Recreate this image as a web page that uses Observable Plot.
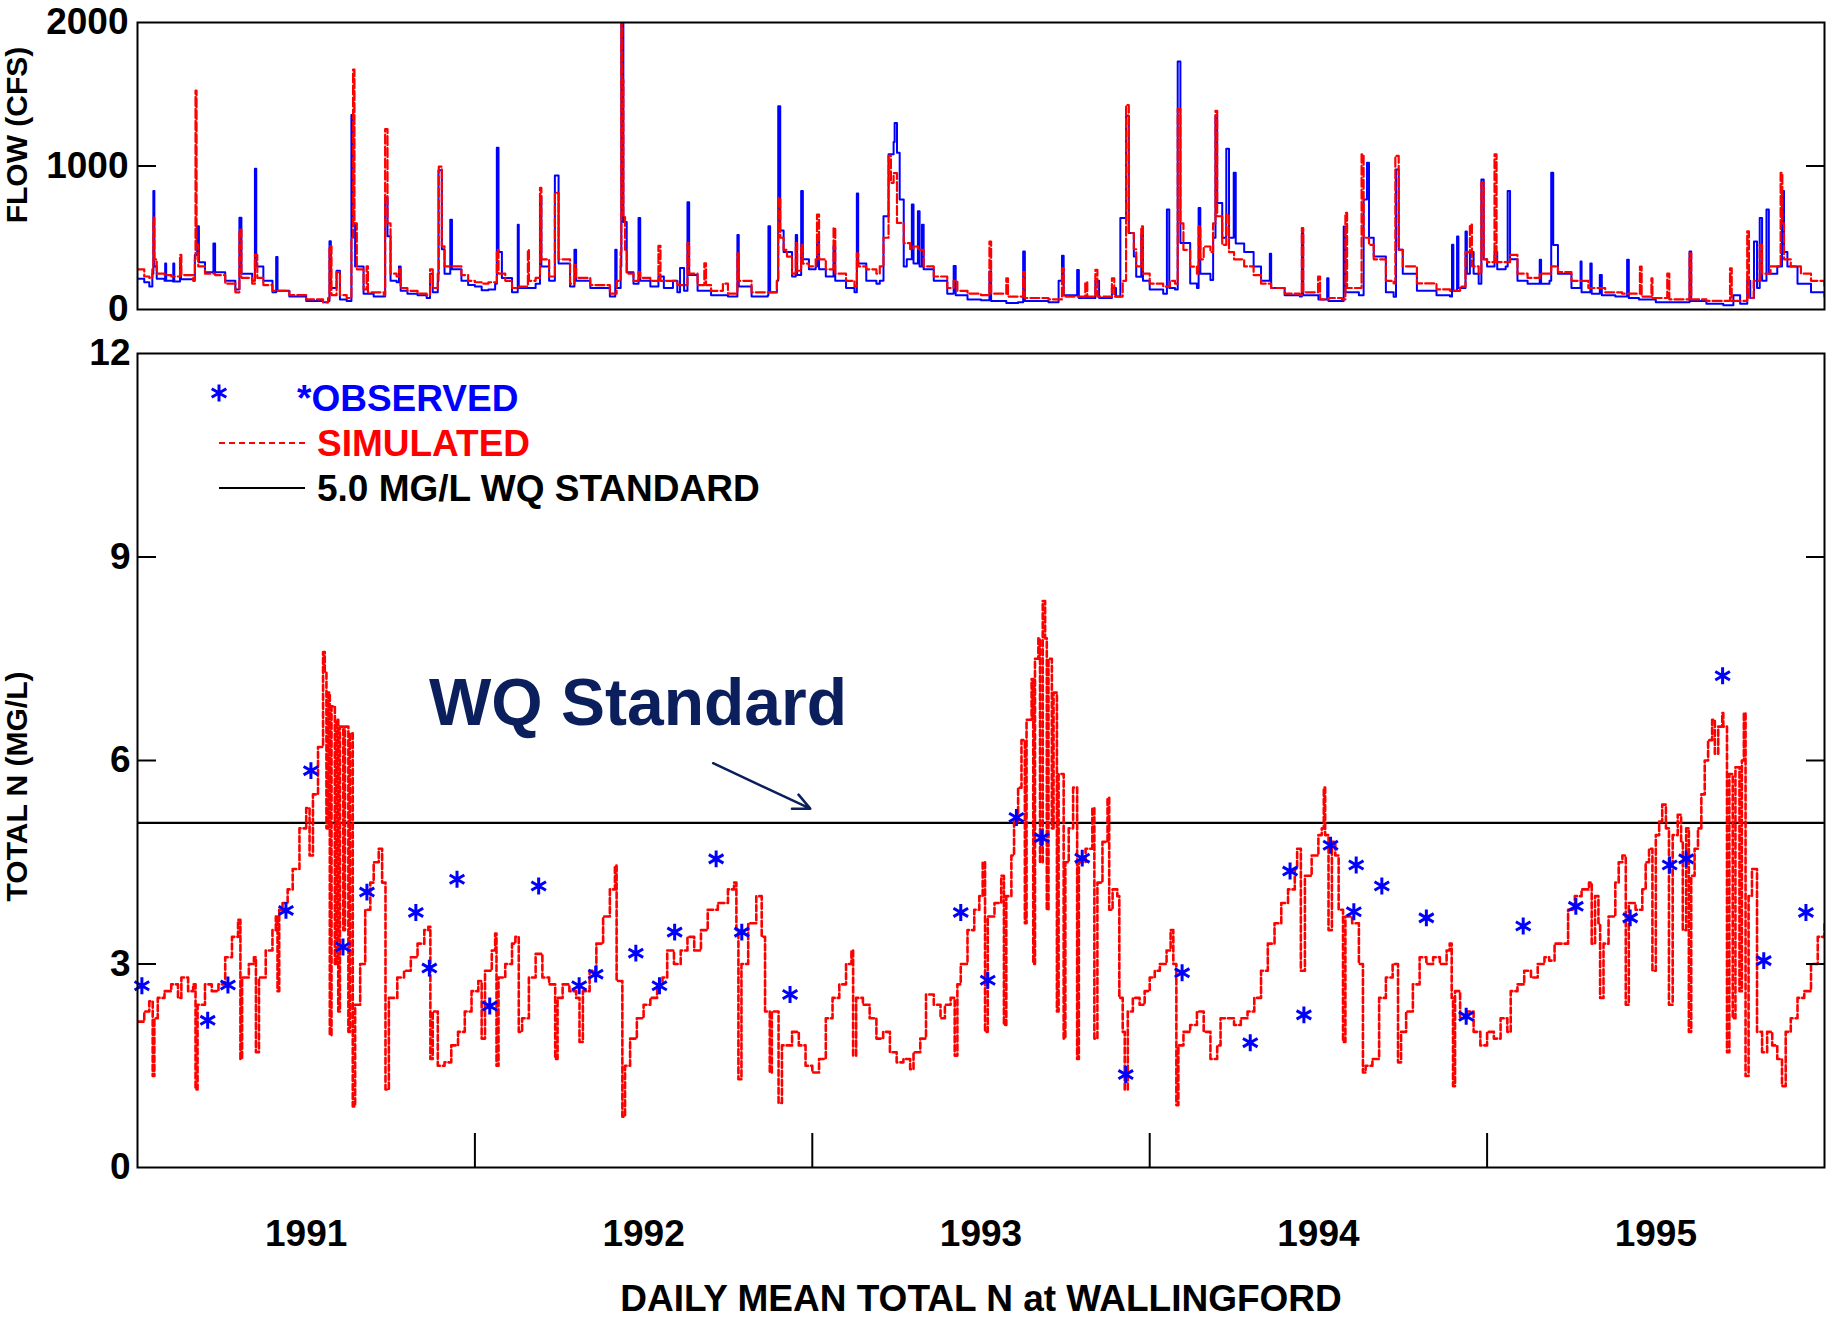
<!DOCTYPE html>
<html>
<head>
<meta charset="utf-8">
<script src="https://cdn.jsdelivr.net/npm/d3@7"></script>
<script src="https://cdn.jsdelivr.net/npm/@observablehq/plot@0.6"></script>
<style>
  html, body { margin: 0; padding: 0; background: #fff; }
  #chart svg { display: block; }
  g[aria-label="ylabel"] text { letter-spacing: 1.8px; }
</style>
</head>
<body>
<div id="chart"></div>
<script>
const FONT = "'Liberation Sans', Arial, Helvetica, sans-serif";

// ---- axes / labels ----
const yearBounds = [1992, 1993, 1994, 1995];
const yearLabels = ["1991", "1992", "1993", "1994", "1995"];
const yearMids = [1991.5, 1992.5, 1993.5, 1994.5, 1995.5];
const flowTicks = [0, 1000, 2000];
const nTicks = [0, 3, 6, 9, 12];
const wqStandard = 5.08;
const title = "DAILY MEAN TOTAL N at WALLINGFORD";

// ---- daily flow, observed (blue) [year, cfs] ----
const flowObs = [
[1991.000,215],[1991.020,190],[1991.035,160],[1991.044,250],[1991.047,825],[1991.050,300],[1991.057,215],[1991.080,200],[1991.082,320],[1991.085,200],
[1991.105,195],[1991.106,320],[1991.109,195],[1991.126,330],[1991.129,210],[1991.165,210],[1991.170,380],[1991.177,580],[1991.182,330],[1991.200,260],
[1991.225,460],[1991.230,260],[1991.260,200],[1991.290,140],[1991.302,640],[1991.308,250],[1991.340,200],[1991.348,980],[1991.352,300],[1991.373,200],
[1991.400,120],[1991.411,365],[1991.415,130],[1991.450,90],[1991.500,60],[1991.550,50],[1991.565,60],[1991.569,475],[1991.573,150],[1991.590,270],
[1991.600,70],[1991.620,60],[1991.634,1355],[1991.638,600],[1991.645,300],[1991.670,110],[1991.700,90],[1991.730,90],[1991.734,780],[1991.741,510],
[1991.750,200],[1991.768,190],[1991.775,300],[1991.780,130],[1991.800,110],[1991.830,100],[1991.857,80],[1991.867,250],[1991.875,120],[1991.890,200],
[1991.892,970],[1991.902,420],[1991.910,250],[1991.927,625],[1991.932,280],[1991.960,200],[1991.980,170],[1992.000,160],[1992.020,135],[1992.040,140],
[1992.060,180],[1992.065,1128],[1992.070,400],[1992.080,220],[1992.110,120],[1992.127,590],[1992.130,150],[1992.160,150],[1992.180,180],[1992.193,790],
[1992.197,300],[1992.220,200],[1992.237,934],[1992.248,320],[1992.282,160],[1992.295,416],[1992.300,200],[1992.342,150],[1992.400,90],[1992.416,416],
[1992.420,150],[1992.432,300],[1992.434,2000],[1992.440,610],[1992.450,260],[1992.470,180],[1992.485,638],[1992.490,200],[1992.520,160],[1992.544,230],
[1992.560,150],[1992.587,200],[1992.600,120],[1992.608,290],[1992.620,130],[1992.630,748],[1992.635,240],[1992.660,130],[1992.700,100],[1992.750,90],
[1992.778,520],[1992.782,160],[1992.820,90],[1992.868,100],[1992.870,580],[1992.875,120],[1992.895,200],[1992.899,1416],[1992.905,550],[1992.915,400],
[1992.940,230],[1992.951,520],[1992.955,240],[1992.967,825],[1992.972,350],[1992.990,280],[1993.010,300],[1993.014,510],[1993.020,280],[1993.040,230],
[1993.063,440],[1993.068,200],[1993.100,150],[1993.125,120],[1993.132,808],[1993.136,320],[1993.160,200],[1993.190,180],[1993.200,200],[1993.211,650],
[1993.226,1082],[1993.241,1168],[1993.244,1299],[1993.251,1093],[1993.259,766],[1993.271,300],[1993.280,350],[1993.295,731],[1993.300,320],[1993.313,684],
[1993.318,300],[1993.325,590],[1993.330,280],[1993.360,200],[1993.400,110],[1993.419,304],[1993.425,100],[1993.460,70],[1993.500,65],[1993.525,264],
[1993.530,60],[1993.575,45],[1993.610,50],[1993.625,404],[1993.630,60],[1993.700,50],[1993.730,200],[1993.740,374],[1993.745,100],[1993.785,276],
[1993.790,80],[1993.820,80],[1993.839,200],[1993.850,80],[1993.888,150],[1993.900,90],[1993.913,638],[1993.930,1350],[1993.938,533],[1993.953,369],
[1993.960,229],[1993.975,521],[1993.980,200],[1994.000,140],[1994.040,110],[1994.051,696],[1994.058,150],[1994.075,140],[1994.083,1729],[1994.091,463],
[1994.120,182],[1994.140,150],[1994.145,708],[1994.150,250],[1994.180,205],[1994.188,500],[1994.195,1350],[1994.200,743],[1994.215,500],[1994.227,1121],
[1994.235,500],[1994.249,953],[1994.255,460],[1994.280,400],[1994.308,300],[1994.330,200],[1994.356,388],[1994.360,150],[1994.400,100],[1994.445,90],
[1994.451,533],[1994.455,100],[1994.500,70],[1994.526,217],[1994.530,60],[1994.570,60],[1994.575,579],[1994.580,120],[1994.620,100],[1994.634,766],
[1994.644,1023],[1994.650,500],[1994.664,370],[1994.700,120],[1994.723,89],[1994.730,976],[1994.738,416],[1994.750,250],[1994.792,130],[1994.850,100],
[1994.890,90],[1994.896,451],[1994.900,130],[1994.911,509],[1994.915,150],[1994.936,544],[1994.940,250],[1994.949,400],[1994.960,250],[1994.975,180],
[1994.983,906],[1994.990,350],[1995.000,300],[1995.022,400],[1995.030,280],[1995.055,300],[1995.061,825],[1995.068,350],[1995.090,200],[1995.120,180],
[1995.156,346],[1995.160,180],[1995.185,200],[1995.190,953],[1995.196,450],[1995.210,250],[1995.250,150],[1995.277,334],[1995.280,120],[1995.306,320],
[1995.310,110],[1995.334,240],[1995.340,100],[1995.380,90],[1995.415,346],[1995.420,80],[1995.450,70],[1995.500,50],[1995.550,50],[1995.600,404],
[1995.605,60],[1995.650,40],[1995.700,30],[1995.720,30],[1995.730,100],[1995.750,40],[1995.771,200],[1995.780,80],[1995.791,474],[1995.800,150],
[1995.808,638],[1995.815,200],[1995.828,696],[1995.835,250],[1995.860,300],[1995.874,825],[1995.880,400],[1995.890,300],[1995.920,180],[1995.960,120],
[1996.000,90]
];

// ---- daily flow, simulated (red dashed) [year, cfs] ----
const flowSim = [
[1991.000,280],[1991.020,230],[1991.035,220],[1991.044,280],[1991.047,640],[1991.050,350],[1991.057,250],[1991.080,240],[1991.100,230],[1991.126,380],
[1991.130,240],[1991.165,200],[1991.170,350],[1991.172,1525],[1991.175,450],[1991.180,300],[1991.200,250],[1991.230,240],[1991.260,180],[1991.290,120],
[1991.302,556],[1991.308,220],[1991.340,180],[1991.348,380],[1991.355,220],[1991.373,170],[1991.400,130],[1991.450,100],[1991.500,70],[1991.550,50],
[1991.565,80],[1991.569,440],[1991.575,100],[1991.590,260],[1991.600,100],[1991.620,80],[1991.634,500],[1991.639,1672],[1991.643,600],[1991.650,280],
[1991.670,140],[1991.679,300],[1991.683,120],[1991.730,100],[1991.734,1257],[1991.741,600],[1991.750,250],[1991.768,230],[1991.775,280],[1991.780,150],
[1991.800,130],[1991.830,110],[1991.857,100],[1991.867,280],[1991.875,150],[1991.890,250],[1991.893,995],[1991.902,440],[1991.910,300],[1991.930,300],
[1991.960,240],[1991.980,200],[1992.000,190],[1992.020,180],[1992.040,190],[1992.065,416],[1992.070,250],[1992.090,200],[1992.110,150],[1992.130,160],
[1992.157,416],[1992.160,200],[1992.180,220],[1992.193,848],[1992.197,350],[1992.220,230],[1992.237,813],[1992.248,350],[1992.282,180],[1992.295,310],
[1992.300,220],[1992.342,170],[1992.400,110],[1992.420,200],[1992.432,400],[1992.434,2000],[1992.437,1600],[1992.440,650],[1992.445,416],[1992.450,250],
[1992.470,200],[1992.485,260],[1992.490,220],[1992.520,200],[1992.544,444],[1992.550,200],[1992.600,170],[1992.630,462],[1992.635,250],[1992.660,170],
[1992.680,322],[1992.685,170],[1992.700,130],[1992.735,180],[1992.750,110],[1992.778,392],[1992.782,200],[1992.820,120],[1992.860,120],[1992.895,200],
[1992.899,778],[1992.905,500],[1992.915,416],[1992.925,369],[1992.940,250],[1992.951,462],[1992.955,270],[1992.967,451],[1992.972,320],[1992.990,300],
[1993.010,350],[1993.014,661],[1993.020,350],[1993.040,280],[1993.063,568],[1993.068,250],[1993.100,200],[1993.125,160],[1993.132,392],[1993.136,300],
[1993.160,280],[1993.190,250],[1993.200,300],[1993.211,500],[1993.226,1070],[1993.233,883],[1993.241,950],[1993.251,603],[1993.271,462],[1993.290,420],
[1993.300,439],[1993.313,416],[1993.330,300],[1993.360,230],[1993.400,150],[1993.419,200],[1993.430,130],[1993.460,110],[1993.500,100],[1993.525,474],
[1993.530,110],[1993.575,217],[1993.580,90],[1993.625,260],[1993.630,80],[1993.700,70],[1993.740,287],[1993.745,90],[1993.785,90],[1993.809,190],
[1993.815,90],[1993.839,276],[1993.845,90],[1993.888,217],[1993.895,90],[1993.920,200],[1993.930,1425],[1993.938,533],[1993.953,420],[1993.960,300],
[1993.975,579],[1993.980,250],[1994.000,180],[1994.040,160],[1994.060,200],[1994.075,180],[1994.083,1397],[1994.091,600],[1994.100,416],[1994.120,299],
[1994.140,250],[1994.145,579],[1994.150,350],[1994.160,439],[1994.180,400],[1994.188,600],[1994.195,1385],[1994.200,650],[1994.215,450],[1994.227,661],
[1994.235,400],[1994.250,350],[1994.280,300],[1994.308,240],[1994.330,180],[1994.360,150],[1994.400,110],[1994.445,100],[1994.451,568],[1994.455,120],
[1994.499,229],[1994.505,70],[1994.530,80],[1994.570,70],[1994.580,673],[1994.585,150],[1994.620,150],[1994.628,1082],[1994.634,500],[1994.650,450],
[1994.664,350],[1994.700,200],[1994.723,182],[1994.728,1070],[1994.738,416],[1994.750,300],[1994.792,182],[1994.850,140],[1994.890,130],[1994.920,160],
[1994.936,400],[1994.949,591],[1994.955,300],[1994.975,250],[1994.983,883],[1994.990,350],[1995.000,330],[1995.022,1082],[1995.028,330],[1995.060,330],
[1995.068,380],[1995.090,250],[1995.120,220],[1995.156,250],[1995.190,300],[1995.210,260],[1995.250,200],[1995.300,150],[1995.350,120],[1995.400,110],
[1995.453,299],[1995.458,90],[1995.487,217],[1995.490,80],[1995.534,250],[1995.540,70],[1995.600,392],[1995.605,70],[1995.650,60],[1995.700,60],
[1995.720,287],[1995.725,60],[1995.771,544],[1995.776,80],[1995.790,200],[1995.808,451],[1995.815,250],[1995.840,300],[1995.870,953],[1995.875,600],
[1995.880,350],[1995.900,300],[1995.930,250],[1995.960,200],[1996.000,160]
];

// ---- simulated total N (red dashed) [year, mg/L] ----
const simN = [
[1991.000,2.15],[1991.020,2.3],[1991.035,2.45],[1991.045,1.35],[1991.050,2.2],[1991.060,2.5],[1991.080,2.6],[1991.100,2.7],[1991.120,2.5],[1991.130,2.8],
[1991.150,2.6],[1991.165,2.7],[1991.172,1.15],[1991.178,2.4],[1991.200,2.7],[1991.220,2.6],[1991.240,2.7],[1991.260,3.1],[1991.280,3.4],[1991.298,3.65],
[1991.305,1.6],[1991.310,2.8],[1991.330,3.0],[1991.345,3.1],[1991.351,1.7],[1991.360,2.8],[1991.380,3.2],[1991.400,3.5],[1991.410,3.7],[1991.415,2.6],
[1991.420,3.8],[1991.430,3.9],[1991.445,4.1],[1991.460,4.4],[1991.480,5.0],[1991.500,5.3],[1991.510,4.6],[1991.520,5.5],[1991.535,6.2],[1991.550,7.6],
[1991.555,7.3],[1991.560,5.0],[1991.565,7.0],[1991.570,1.95],[1991.575,6.8],[1991.585,3.0],[1991.590,6.6],[1991.595,2.3],[1991.600,6.5],[1991.610,3.5],
[1991.615,6.5],[1991.625,2.0],[1991.630,6.4],[1991.638,0.9],[1991.645,2.4],[1991.660,3.0],[1991.675,3.8],[1991.690,4.2],[1991.700,4.5],[1991.715,4.7],
[1991.725,4.2],[1991.735,1.15],[1991.745,2.5],[1991.770,2.8],[1991.790,2.9],[1991.810,3.1],[1991.830,3.3],[1991.850,3.5],[1991.862,3.55],[1991.868,1.6],
[1991.875,2.3],[1991.890,1.5],[1991.910,1.55],[1991.930,1.8],[1991.950,2.0],[1991.970,2.3],[1991.990,2.6],[1992.010,2.75],[1992.020,1.9],[1992.030,2.9],
[1992.050,3.2],[1992.060,3.45],[1992.064,1.5],[1992.070,2.8],[1992.090,3.0],[1992.110,3.3],[1992.120,3.4],[1992.130,2.0],[1992.140,2.2],[1992.160,2.8],
[1992.180,3.15],[1992.200,2.8],[1992.220,2.7],[1992.238,1.6],[1992.245,2.5],[1992.260,2.7],[1992.280,2.6],[1992.300,2.5],[1992.310,1.85],[1992.320,2.6],
[1992.340,2.9],[1992.360,3.3],[1992.380,3.7],[1992.400,4.1],[1992.415,4.45],[1992.420,2.75],[1992.437,0.75],[1992.445,1.5],[1992.460,1.9],[1992.480,2.2],
[1992.500,2.4],[1992.520,2.5],[1992.540,2.7],[1992.556,2.8],[1992.570,3.2],[1992.590,3.0],[1992.610,3.2],[1992.630,3.4],[1992.650,3.2],[1992.670,3.5],
[1992.690,3.8],[1992.720,3.9],[1992.750,4.1],[1992.768,4.2],[1992.775,3.5],[1992.781,1.3],[1992.790,3.0],[1992.810,3.6],[1992.834,4.0],[1992.850,3.4],
[1992.860,2.3],[1992.874,1.4],[1992.880,2.3],[1992.900,0.95],[1992.910,1.8],[1992.940,2.0],[1992.960,1.8],[1992.980,1.5],[1993.000,1.4],[1993.020,1.6],
[1993.040,2.2],[1993.060,2.5],[1993.080,2.7],[1993.100,3.0],[1993.116,3.2],[1993.121,1.65],[1993.130,2.5],[1993.150,2.4],[1993.170,2.2],[1993.190,1.9],
[1993.210,2.0],[1993.230,1.7],[1993.250,1.55],[1993.270,1.6],[1993.290,1.45],[1993.300,1.7],[1993.320,1.9],[1993.337,2.55],[1993.360,2.4],[1993.380,2.2],
[1993.393,2.4],[1993.410,2.5],[1993.422,1.65],[1993.430,2.7],[1993.440,3.0],[1993.460,3.5],[1993.480,3.8],[1993.495,4.0],[1993.505,4.5],[1993.512,2.0],
[1993.520,3.7],[1993.540,3.9],[1993.560,4.3],[1993.568,2.1],[1993.575,4.0],[1993.590,4.6],[1993.598,5.1],[1993.610,5.6],[1993.620,6.3],[1993.630,3.6],
[1993.635,6.6],[1993.650,7.2],[1993.655,3.0],[1993.660,7.5],[1993.670,7.8],[1993.675,4.5],[1993.683,8.35],[1993.690,7.8],[1993.695,3.8],[1993.700,7.5],
[1993.710,5.0],[1993.715,7.0],[1993.725,2.3],[1993.730,5.8],[1993.745,1.9],[1993.750,4.5],[1993.760,5.0],[1993.773,5.6],[1993.785,1.6],[1993.790,4.5],
[1993.810,4.7],[1993.830,5.3],[1993.836,1.9],[1993.845,4.2],[1993.860,4.8],[1993.875,5.45],[1993.880,3.8],[1993.890,4.1],[1993.904,4.0],[1993.910,2.5],
[1993.920,2.0],[1993.926,1.15],[1993.935,2.3],[1993.950,2.5],[1993.970,2.4],[1993.985,2.6],[1994.000,2.8],[1994.015,2.9],[1994.030,3.0],[1994.050,3.2],
[1994.062,3.5],[1994.070,3.0],[1994.079,0.92],[1994.085,1.8],[1994.100,2.0],[1994.120,2.1],[1994.140,2.3],[1994.160,2.0],[1994.180,1.6],[1994.200,1.8],
[1994.210,2.2],[1994.230,2.2],[1994.250,2.1],[1994.270,2.2],[1994.290,2.3],[1994.310,2.5],[1994.330,2.9],[1994.350,3.3],[1994.370,3.6],[1994.390,3.9],
[1994.410,4.1],[1994.430,4.4],[1994.437,4.7],[1994.448,2.9],[1994.460,4.3],[1994.480,4.6],[1994.500,4.9],[1994.510,5.0],[1994.516,5.6],[1994.520,4.9],
[1994.530,3.5],[1994.540,4.8],[1994.550,4.6],[1994.560,3.8],[1994.573,1.85],[1994.580,3.7],[1994.600,3.6],[1994.620,3.0],[1994.632,1.4],[1994.640,1.5],
[1994.660,1.6],[1994.680,2.5],[1994.700,2.8],[1994.720,3.0],[1994.736,1.55],[1994.745,2.0],[1994.760,2.3],[1994.780,2.7],[1994.800,3.1],[1994.820,3.0],
[1994.840,3.1],[1994.860,3.0],[1994.880,3.2],[1994.889,3.3],[1994.895,2.5],[1994.899,1.2],[1994.905,2.6],[1994.920,2.2],[1994.940,2.3],[1994.960,2.0],
[1994.980,1.8],[1995.000,2.0],[1995.020,1.9],[1995.040,2.2],[1995.060,2.0],[1995.070,2.6],[1995.090,2.7],[1995.110,2.9],[1995.130,2.8],[1995.150,3.0],
[1995.170,3.1],[1995.184,3.05],[1995.200,3.3],[1995.224,3.3],[1995.240,3.8],[1995.260,4.0],[1995.280,4.1],[1995.302,4.2],[1995.310,3.3],[1995.320,4.0],
[1995.330,3.6],[1995.335,2.5],[1995.345,3.3],[1995.360,3.7],[1995.380,4.2],[1995.390,4.5],[1995.401,4.6],[1995.411,2.4],[1995.420,3.9],[1995.440,3.8],
[1995.460,4.1],[1995.470,4.5],[1995.480,4.7],[1995.490,2.9],[1995.500,4.9],[1995.510,5.1],[1995.519,5.35],[1995.530,5.0],[1995.539,2.4],[1995.550,4.9],
[1995.565,5.2],[1995.575,4.8],[1995.580,3.5],[1995.590,5.0],[1995.598,2.0],[1995.605,4.3],[1995.615,4.7],[1995.625,5.0],[1995.635,5.5],[1995.645,6.0],
[1995.655,6.3],[1995.667,6.6],[1995.675,6.1],[1995.685,6.5],[1995.697,6.7],[1995.700,6.5],[1995.711,1.7],[1995.718,5.8],[1995.728,2.2],[1995.736,5.9],
[1995.748,2.6],[1995.755,6.0],[1995.761,6.7],[1995.766,1.35],[1995.775,4.0],[1995.785,4.4],[1995.800,2.0],
[1995.815,1.7],[1995.830,2.0],[1995.845,1.8],[1995.860,1.6],[1995.874,1.2],[1995.885,2.0],[1995.900,2.2],[1995.920,2.5],[1995.940,2.6],[1995.960,3.0],
[1995.980,3.4],[1996.000,3.6]
];

// ---- observed total N samples (blue asterisks) [year, mg/L] ----
const obsN = [
[1991.013,2.68],[1991.208,2.17],[1991.268,2.69],[1991.440,3.79],[1991.514,5.85],[1991.609,3.25],[1991.680,4.06],[1991.825,3.76],[1991.865,2.94],
[1991.947,4.25],[1992.044,2.38],[1992.189,4.15],[1992.309,2.68],[1992.358,2.85],[1992.477,3.16],[1992.547,2.68],[1992.592,3.47],[1992.715,4.55],
[1992.791,3.47],[1992.934,2.55],[1993.440,3.76],[1993.520,2.76],[1993.605,5.16],[1993.680,4.86],[1993.800,4.56],[1993.929,1.37],[1994.096,2.87],
[1994.298,1.84],[1994.416,4.37],[1994.457,2.25],[1994.536,4.75],[1994.605,3.77],[1994.612,4.46],[1994.688,4.15],[1994.820,3.68],[1994.938,2.23],
[1995.107,3.56],[1995.263,3.85],[1995.424,3.68],[1995.541,4.46],[1995.590,4.55],[1995.698,7.25],[1995.820,3.05],[1995.945,3.76]
];

// ---- legend & annotation ----
const legendItems = [
  { label: "*OBSERVED", color: "#0000ff", kind: "star" },
  { label: "SIMULATED", color: "#ff0000", kind: "dash" },
  { label: "5.0 MG/L WQ STANDARD", color: "#000000", kind: "solid" }
];
const annotation = [{ label: "WQ Standard", x: 1991.864, y: 6.83, x1: 1992.706, y1: 5.96, x2: 1992.994, y2: 5.29 }];

const BLUE = "#0000ff", RED = "#ff0000", NAVY = "#0b1f5c";
const fmt = d => String(d);

// ---------- top panel: flow ----------
const topPlot = Plot.plot({
  width: 1827, height: 330,
  marginTop: 22, marginBottom: 21, marginLeft: 137, marginRight: 3,
  style: { fontFamily: FONT, fontWeight: "bold", background: "white", overflow: "visible" },
  x: { domain: [1991, 1996], axis: null },
  y: { domain: [0, 2000] },
  marks: [
    Plot.line(flowObs, { x: d => d[0], y: d => d[1], curve: "step-after", stroke: BLUE, strokeWidth: 2, clip: true }),
    Plot.line(flowSim, { x: d => d[0], y: d => d[1], curve: "step-after", stroke: RED, strokeWidth: 2.2, strokeDasharray: "9,3", clip: true }),
    Plot.axisY(flowTicks, { anchor: "left", tickSize: 0, tickPadding: 9, fontSize: 37, label: null, tickFormat: fmt }),
    Plot.axisY([1000], { anchor: "left", tickSize: -19, tickFormat: () => "", label: null, strokeWidth: 2 }),
    Plot.axisY([1000], { anchor: "right", tickSize: -19, tickFormat: () => "", label: null, strokeWidth: 2 }),
    Plot.frame({ stroke: "black", strokeWidth: 2 }),
    Plot.text(["FLOW (CFS)"], { frameAnchor: "left", textAnchor: "middle", lineAnchor: "middle", rotate: -90, dx: -120, dy: -31, fontSize: 30, fontWeight: "bold", ariaLabel: "ylabel" })
  ]
});

// legend drawn as a render-function mark
function legendMark(index, scales, values, dimensions) {
  const g = d3.create("svg:g")
    .attr("font-family", FONT).attr("font-weight", "bold").attr("font-size", 37)
    .attr("text-anchor", "start");
  const x0 = dimensions.marginLeft, y0 = dimensions.marginTop;
  legendItems.forEach((item, i) => {
    const cy = y0 + 45 + i * 45;
    if (item.kind === "star") {
      g.append("path")
        .attr("d", d3.symbol(d3.symbolAsterisk, 200)())
        .attr("transform", `translate(${x0 + 82},${cy - 5})`)
        .attr("fill", "none").attr("stroke", item.color).attr("stroke-width", 3);
      g.append("text").attr("x", x0 + 160).attr("y", cy).attr("dy", "0.36em")
        .attr("text-anchor", "start").attr("fill", item.color).text(item.label);
    } else {
      g.append("line")
        .attr("x1", x0 + 82).attr("x2", x0 + 168).attr("y1", cy).attr("y2", cy)
        .attr("stroke", item.color).attr("stroke-width", 2)
        .attr("stroke-dasharray", item.kind === "dash" ? "6,4" : null);
      g.append("text").attr("x", x0 + 180).attr("y", cy).attr("dy", "0.36em")
        .attr("text-anchor", "start").attr("fill", item.color).text(item.label);
    }
  });
  return g.node();
}

// ---------- bottom panel: total N ----------
const botPlot = Plot.plot({
  width: 1827, height: 991,
  marginTop: 23, marginBottom: 154, marginLeft: 137, marginRight: 3,
  style: { fontFamily: FONT, fontWeight: "bold", background: "white", overflow: "visible" },
  x: { domain: [1991, 1996] },
  y: { domain: [0, 12] },
  marks: [
    Plot.ruleY([wqStandard], { stroke: "black", strokeWidth: 2.2 }),
    Plot.line(simN, { x: d => d[0], y: d => d[1], curve: "step-after", stroke: RED, strokeWidth: 2.6, strokeDasharray: "6,3", clip: true }),
    Plot.dot(obsN, { x: d => d[0], y: d => d[1], symbol: "asterisk", r: 8, stroke: BLUE, strokeWidth: 3 }),
    Plot.text(annotation, { x: "x", y: "y", text: "label", fill: NAVY, fontSize: 66, fontWeight: "bold", textAnchor: "start" }),
    Plot.arrow(annotation, { x1: "x1", y1: "y1", x2: "x2", y2: "y2", stroke: NAVY, strokeWidth: 2.5, headLength: 11, headAngle: 50 }),
    legendMark,
    Plot.axisY(nTicks, { anchor: "left", tickSize: 0, tickPadding: 7, fontSize: 37, label: null, tickFormat: fmt }),
    Plot.axisY([3, 6, 9], { anchor: "left", tickSize: -19, tickFormat: () => "", label: null, strokeWidth: 2 }),
    Plot.axisY([3, 6, 9], { anchor: "right", tickSize: -19, tickFormat: () => "", label: null, strokeWidth: 2 }),
    Plot.axisX(yearBounds, { anchor: "bottom", tickSize: -34, tickFormat: () => "", label: null, strokeWidth: 2 }),
    Plot.axisX(yearMids, { anchor: "bottom", tickSize: 0, tickPadding: 52, fontSize: 37, label: null,
      tickFormat: d => yearLabels[yearMids.indexOf(d)] }),
    Plot.frame({ stroke: "black", strokeWidth: 2 }),
    Plot.text([title], { frameAnchor: "bottom", textAnchor: "middle", lineAnchor: "middle", dy: 132, fontSize: 37, fontWeight: "bold" }),
    Plot.text(["TOTAL N (MG/L)"], { frameAnchor: "left", textAnchor: "middle", lineAnchor: "middle", rotate: -90, dx: -120, dy: 26, fontSize: 30, fontWeight: "bold", ariaLabel: "ylabel" })
  ]
});

const chart = document.getElementById("chart");
chart.appendChild(topPlot);
chart.appendChild(botPlot);
</script>
</body>
</html>
